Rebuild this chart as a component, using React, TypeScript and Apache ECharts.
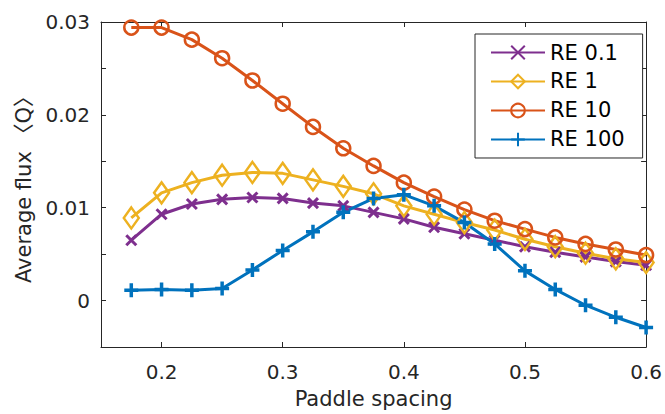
import React, { useEffect, useRef } from "react";
import * as echarts from "echarts";

const xs = [0.175, 0.2, 0.225, 0.25, 0.275, 0.3, 0.325, 0.35, 0.375, 0.4, 0.425, 0.45, 0.475, 0.5, 0.525, 0.55, 0.575, 0.6];
const re01 = [0.0065, 0.0093, 0.0104, 0.0109, 0.0111, 0.011, 0.0105, 0.0102, 0.0095, 0.0088, 0.0079, 0.0072, 0.0065, 0.0058, 0.0052, 0.0047, 0.0042, 0.0038];
const re1 = [0.0089, 0.0116, 0.0127, 0.0135, 0.0138, 0.0137, 0.013, 0.0123, 0.0115, 0.0102, 0.0093, 0.0084, 0.0076, 0.0066, 0.0058, 0.0051, 0.0045, 0.0041];
const re10 = [0.0294, 0.0294, 0.0281, 0.0261, 0.0237, 0.0212, 0.0187, 0.0164, 0.0145, 0.0127, 0.0112, 0.0098, 0.0086, 0.0077, 0.0068, 0.0061, 0.0055, 0.0049];
const re100 = [0.0011, 0.0012, 0.0011, 0.0013, 0.0033, 0.0054, 0.0074, 0.0095, 0.011, 0.0114, 0.0102, 0.0084, 0.0061, 0.0032, 0.0012, -0.0005, -0.0018, -0.0029];
const seriesNames = ["RE 0.1", "RE 1", "RE 10", "RE 100"];
const xLabelName = "Paddle spacing";
const yLabelName = "Average flux 〈Q〉";

const TXT = "#262626";
const FONT = "DejaVu Sans, Noto Sans CJK SC, sans-serif";

export default function App() {
  const ref = useRef<HTMLDivElement>(null);
  useEffect(() => {
    if (!ref.current) return;
    const chart = echarts.init(ref.current, undefined, { renderer: "svg" });
    const xFmt = (v: number) => {
      const k = v / 0.1;
      return Math.abs(k - Math.round(k)) < 1e-6 ? v.toFixed(1) : "";
    };
    const yFmt = (v: number) => {
      if (Math.abs(v) < 1e-9) return "0";
      const k = v / 0.01;
      return Math.abs(k - Math.round(k)) < 1e-6 ? v.toFixed(2) : "";
    };
    const axisCommon = {
      axisLine: { show: true, onZero: false, lineStyle: { color: TXT, width: 1 } },
      axisTick: { show: true, inside: true, length: 5, lineStyle: { color: TXT, width: 1 } },
      splitLine: { show: false },
    };
    const mk = (
      name: string,
      vals: number[],
      color: string,
      symbol: string,
      size: number | number[],
      bw: number
    ) => ({
      type: "line",
      name,
      data: xs.map((x, i) => [x, vals[i]]),
      symbol,
      symbolSize: size,
      showAllSymbol: true,
      lineStyle: { color, width: 3 },
      itemStyle: { color: "rgba(0,0,0,0)", borderColor: color, borderWidth: bw },
      emphasis: { disabled: true },
    });
    chart.setOption({
      animation: false,
      textStyle: { fontFamily: FONT, color: TXT },
      grid: { left: 101, right: 16, top: 22, bottom: 66 },
      legend: {
        orient: "vertical",
        left: 475,
        top: 34,
        padding: [8, 18, 8, 15],
        itemGap: 8,
        itemWidth: 54,
        itemHeight: 17,
        backgroundColor: "#fff",
        borderColor: TXT,
        borderWidth: 1,
        borderRadius: 0,
        textStyle: { fontSize: 21, color: "#000", fontFamily: FONT },
        data: seriesNames,
      },
      xAxis: [
        {
          type: "value",
          min: 0.15,
          max: 0.6,
          position: "bottom",
          name: xLabelName,
          nameLocation: "middle",
          nameGap: 41,
          nameTextStyle: { fontSize: 21, color: TXT, fontFamily: FONT },
          axisLabel: { fontSize: 20, color: TXT, margin: 15, formatter: xFmt, fontFamily: FONT },
          ...axisCommon,
        },
        {
          type: "value",
          min: 0.15,
          max: 0.6,
          position: "top",
          axisLabel: { show: false },
          ...axisCommon,
        },
      ],
      yAxis: [
        {
          type: "value",
          min: -0.005,
          max: 0.03,
          position: "left",
          name: yLabelName,
          nameLocation: "middle",
          nameGap: 64,
          nameRotate: 90,
          nameTextStyle: { fontSize: 21, color: TXT, fontFamily: FONT },
          axisLabel: { fontSize: 20, color: TXT, margin: 11, formatter: yFmt, fontFamily: FONT },
          ...axisCommon,
        },
        {
          type: "value",
          min: -0.005,
          max: 0.03,
          position: "right",
          axisLabel: { show: false },
          ...axisCommon,
        },
      ],
      series: [
        mk(seriesNames[0], re01, "#7E2F8E", "path://M0,0L10,10M10,0L0,10", 10, 3),
        mk(seriesNames[1], re1, "#EDB120", "diamond", [15, 21], 2.5),
        mk(seriesNames[2], re10, "#D95319", "circle", 14, 2.5),
        mk(seriesNames[3], re100, "#0072BD", "path://M5,0L5,10M0,5L10,5", 14, 3.5),
      ],
    });
    return () => chart.dispose();
  }, []);
  return <div ref={ref} style={{ width: 665, height: 414, position: "absolute", left: 0, top: 0 }} />;
}
